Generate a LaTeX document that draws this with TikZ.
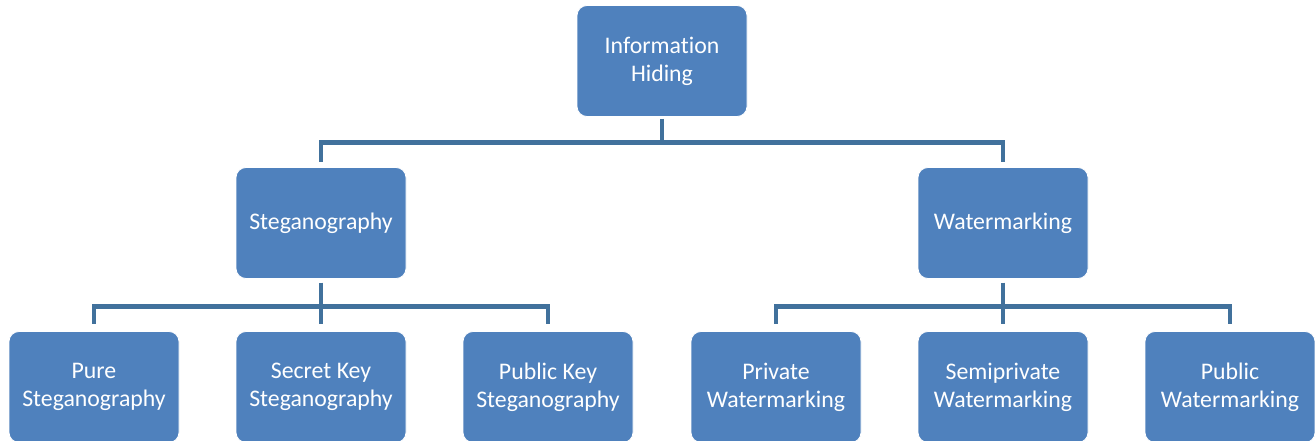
\documentclass[tikz,border=0pt]{standalone}
\usepackage{fontspec}
\setmainfont{Carlito}[Ligatures={NoCommon}]
\definecolor{boxblue}{HTML}{4F81BD}
\definecolor{lineblue}{HTML}{41719C}
\begin{document}
\begin{tikzpicture}[x=1pt,y=1pt,
  box/.style={rectangle, rounded corners=10pt, fill=boxblue, draw=white, line width=0.8pt,
    minimum width=170pt, minimum height=111pt, inner sep=0pt, text=white, align=center,
    font=\fontsize{23.8}{28}\selectfont},
  conn/.style={draw=lineblue, line width=4.5pt, line join=miter}]
\useasboundingbox (0,0) rectangle (1315,-440);
\node[box] (top)   at (662,-61)  {Information\\Hiding};
\node[box] (steg)  at (321,-223) {Steganography};
\node[box] (water) at (1003,-223) {Watermarking};
\node[box] (pure)  at (94,-387)  {Pure\\Steganography};
\node[box] (skey)  at (321,-387) {Secret Key\\Steganography};
\node[box] (pkey)  at (548,-387) {Public Key\\Steganography};
\node[box] (priv)  at (776,-387) {Private\\Watermarking};
\node[box] (semi)  at (1003,-387) {Semiprivate\\Watermarking};
\node[box] (pubw)  at (1230,-387) {Public\\Watermarking};
\draw[conn, shorten <=2pt, shorten >=5pt] (top.south) -- ++(0,-25.5) -| (steg.north);
\draw[conn, shorten <=2pt, shorten >=5pt] (top.south) -- ++(0,-25.5) -| (water.north);
\foreach \c in {pure,skey,pkey}{
  \draw[conn, shorten <=4pt, shorten >=7pt] (steg.south) -- ++(0,-27.5) -| (\c.north);
}
\foreach \c in {priv,semi,pubw}{
  \draw[conn, shorten <=4pt, shorten >=7pt] (water.south) -- ++(0,-27.5) -| (\c.north);
}
\end{tikzpicture}
\end{document}
